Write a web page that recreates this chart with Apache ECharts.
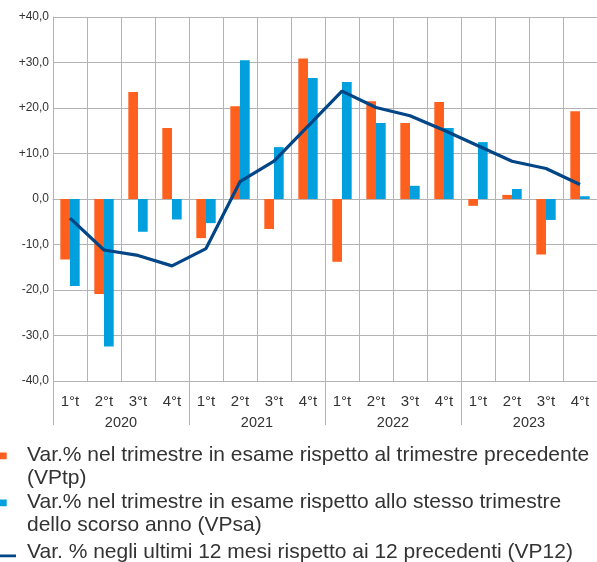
<!DOCTYPE html>
<html>
<head>
<meta charset="UTF-8">
<title>Variazioni %</title>
<style>
  html, body { margin: 0; padding: 0; background: #fff; }
  #chart { width: 597px; height: 562px; }
</style>
</head>
<body>
<div id="chart"></div>
<script src="https://cdn.jsdelivr.net/npm/echarts@6/dist/echarts.min.js"></script>
<script>
// trimestri e anni (asse x su due livelli)
var quarters = ['1°t','2°t','3°t','4°t','1°t','2°t','3°t','4°t','1°t','2°t','3°t','4°t','1°t','2°t','3°t','4°t'];
var years = ['2020','2021','2022','2023'];

// valori
var vptp = [-13.3, -20.9, 23.5, 15.6, -8.6, 20.4, -6.6, 30.9, -13.8, 21.5, 16.7, 21.3, -1.5, 0.9, -12.2, 19.3];
var vpsa = [-19.1, -32.4, -7.2, -4.5, -5.3, 30.5, 11.4, 26.6, 25.7, 16.7, 2.9, 15.6, 12.5, 2.2, -4.6, 0.6];
var vp12 = [-4.2, -11.2, -12.4, -14.7, -10.9, 3.8, 8.3, 16.0, 23.7, 20.1, 18.3, 15.1, 11.7, 8.3, 6.7, 3.2];

// testi della legenda
var legendText = {
  VPtp: 'Var.% nel trimestre in esame rispetto al trimestre precedente\n(VPtp)',
  VPsa: 'Var.% nel trimestre in esame rispetto allo stesso trimestre\ndello scorso anno (VPsa)',
  VP12: 'Var. % negli ultimi 12 mesi rispetto ai 12 precedenti (VP12)'
};

var GRID_COLOR = '#b3b3b3';
var TEXT_COLOR = '#333';
var FONT = 'Liberation Sans, Arial, sans-serif';

// icone: piccoli punti invisibili agli angoli per fissare il riquadro
var squareIcon = 'path://M0,0h0.01v0.01h-0.01z M21.99,45.99h0.01v0.01h-0.01z M0,8.5h6.7v6.7h-6.7z';
var lineIcon = 'path://M0,0h0.01v0.01h-0.01z M21.99,22.99h0.01v0.01h-0.01z M0,13.5h16v2.8h-16z';

function fmtY(v) {
  var s = Math.abs(v).toFixed(1).replace('.', ',');
  if (v > 0) return '+' + s;
  if (v < 0) return '-' + s;
  return s;
}

var chart = echarts.init(document.getElementById('chart'));
var option = {
  animation: false,
  backgroundColor: '#fff',
  textStyle: { fontFamily: FONT },
  legend: [{
    orient: 'vertical',
    left: 0,
    top: 444,
    padding: 0,
    itemGap: 1,
    itemWidth: 22,
    itemHeight: 46,
    selectedMode: false,
    data: [{ name: 'VPtp', icon: squareIcon }, { name: 'VPsa', icon: squareIcon }],
    formatter: function (name) { return legendText[name]; },
    textStyle: { fontSize: 21, lineHeight: 23, color: TEXT_COLOR, fontFamily: FONT }
  }, {
    orient: 'vertical',
    left: 0,
    top: 541,
    padding: 0,
    itemWidth: 22,
    itemHeight: 23,
    selectedMode: false,
    data: [{ name: 'VP12', icon: lineIcon }],
    formatter: function (name) { return legendText[name]; },
    textStyle: { fontSize: 21, lineHeight: 23, color: TEXT_COLOR, fontFamily: FONT }
  }],
  grid: { left: 53, right: -3, top: 17, bottom: 181, containLabel: false },
  xAxis: [{
    type: 'category',
    data: quarters,
    position: 'bottom',
    axisLine: { show: true, lineStyle: { color: GRID_COLOR, width: 1 } },
    axisTick: { show: false },
    splitLine: { show: true, interval: 0, lineStyle: { color: GRID_COLOR, width: 1 } },
    axisLabel: { interval: 0, margin: 13, fontSize: 15, color: TEXT_COLOR, fontFamily: FONT }
  }, {
    type: 'category',
    data: years,
    position: 'bottom',
    axisLine: { show: false },
    axisTick: { show: true, interval: 0, length: 44, lineStyle: { color: GRID_COLOR, width: 1 } },
    splitLine: { show: false },
    axisLabel: { interval: 0, margin: 34, fontSize: 14.5, color: TEXT_COLOR, fontFamily: FONT }
  }],
  yAxis: {
    type: 'value',
    min: -40,
    max: 40,
    interval: 10,
    axisLine: { show: true, lineStyle: { color: GRID_COLOR, width: 1 } },
    axisTick: { show: false },
    splitLine: { show: true, lineStyle: { color: GRID_COLOR, width: 1 } },
    axisLabel: { margin: 4, fontSize: 12, color: TEXT_COLOR, fontFamily: FONT, formatter: fmtY }
  },
  series: [{
    name: 'VPtp',
    type: 'bar',
    data: vptp,
    barGap: 0,
    barCategoryGap: '43%',
    itemStyle: { color: '#ff601e' }
  }, {
    name: 'VPsa',
    type: 'bar',
    data: vpsa,
    itemStyle: { color: '#009fdd' }
  }, {
    name: 'VP12',
    type: 'line',
    data: vp12,
    symbol: 'none',
    z: 5,
    lineStyle: { color: '#004586', width: 3.2 },
    itemStyle: { color: '#004586' }
  }]
};
chart.setOption(option);
</script>
</body>
</html>
